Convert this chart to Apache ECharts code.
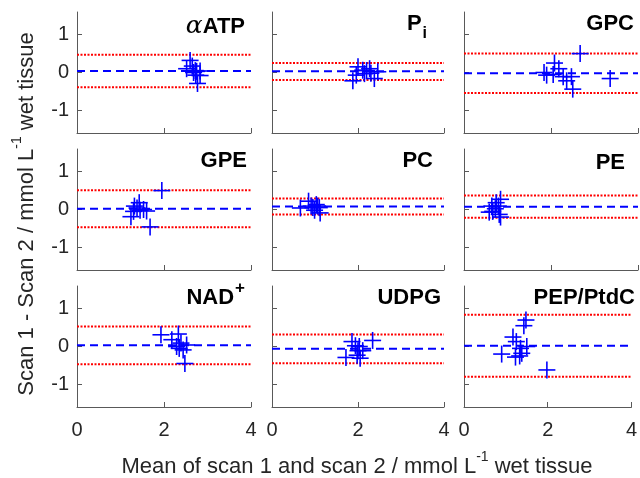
<!DOCTYPE html>
<html>
<head>
<meta charset="utf-8">
<script src="https://cdn.jsdelivr.net/npm/echarts@6/dist/echarts.min.js"></script>
<style>html,body{margin:0;padding:0;background:#fff}#c{width:640px;height:478px}</style>
</head>
<body>
<div id="c"></div>
<script>
// ---- data ----
const panelNames = ['{a|α}ATP', '{b|P}{s|i}', 'GPC', 'GPE', 'PC', 'PE', '{b|NAD}{p|+}', 'UDPG', 'PEP/PtdC'];
const xTicks = [0, 2, 4];
const yTicks = [-1, 0, 1];

const atpX  = [2.60, 2.65, 2.52, 2.72, 2.75, 2.83, 2.73, 2.83, 2.77, 2.68];
const atpY  = [0.32, 0.17, 0.10, 0.05, 0.03, 0.04, -0.07, -0.08, -0.29, 0.00];
const piX   = [1.88, 2.00, 2.15, 2.27, 2.38, 2.46, 1.96, 2.11, 2.20, 2.30];
const piY   = [-0.22, 0.15, -0.03, 0.10, -0.16, 0.02, -0.07, 0.06, 0.05, -0.02];
const gpcX  = [2.67, 3.36, 1.84, 2.08, 2.18, 2.28, 2.47, 2.50, 2.36, 1.90, 2.05];
const gpcY  = [0.50, -0.16, 0.00, 0.25, 0.10, -0.11, -0.11, -0.44, -0.22, -0.07, -0.05];
const gpeX  = [1.95, 1.68, 1.24, 1.32, 1.43, 1.53, 1.60, 1.38, 1.45, 1.30];
const gpeY  = [0.50, -0.46, -0.19, 0.09, 0.18, 0.00, -0.04, 0.04, -0.02, -0.05];
const pcX   = [0.66, 0.85, 0.91, 1.03, 1.12, 0.99, 1.06, 0.95, 1.10];
const pcY   = [0.04, 0.22, 0.09, 0.13, -0.09, -0.02, 0.09, 0.05, 0.05];
const peX   = [0.58, 0.66, 0.74, 0.79, 0.84, 0.84, 0.64, 0.81, 0.72];
const peY   = [-0.07, -0.05, 0.18, 0.09, 0.27, -0.20, 0.09, -0.13, 0.02];
const nadX  = [1.93, 2.48, 2.33, 2.18, 2.39, 2.44, 2.52, 2.29, 2.35];
const nadY  = [0.31, -0.45, 0.33, 0.18, 0.09, -0.09, 0.04, 0.00, -0.05];
const udpgX = [2.34, 1.72, 1.86, 1.94, 2.00, 2.05, 2.11, 1.98, 2.03];
const udpgY = [0.16, -0.29, 0.13, 0.02, -0.11, -0.31, -0.11, -0.23, 0.00];
const pepX  = [1.98, 1.48, 1.43, 1.17, 1.25, 0.90, 1.23, 1.33, 1.50, 1.35, 1.38];
const pepY  = [-0.62, 0.70, 0.55, 0.25, 0.13, -0.20, -0.28, -0.25, 0.00, -0.05, -0.18];

const bias     = [0.04, 0.03, -0.02, 0.02, 0.08, 0.07, 0.03, -0.06, 0.02];
const upperLoA = [0.47, 0.25, 0.50, 0.51, 0.29, 0.37, 0.53, 0.32, 0.84];
const lowerLoA = [-0.39, -0.20, -0.54, -0.47, -0.13, -0.22, -0.47, -0.44, -0.80];

const xs = [atpX, piX, gpcX, gpeX, pcX, peX, nadX, udpgX, pepX];
const ys = [atpY, piY, gpcY, gpeY, pcY, peY, nadY, udpgY, pepY];

// ---- layout ----
const FONT = '"Liberation Sans", Arial, Helvetica, sans-serif';
const colLeft = [77, 272, 464];
const colWidth = [174, 172, 174];
const rowTop = [12, 149, 286];
const rowHeight = 121;
const titleRight = [245, 427, 634, 247, 433, 625, 245, 441, 635];
const titleTop = [14, 6, 13, 150, 150, 152, 280, 287, 287];
const AX = '#595959';

const grids = [], xAxes = [], yAxes = [], series = [], titles = [];
for (let i = 0; i < 9; i++) {
  const r = Math.floor(i / 3), c = i % 3;
  grids.push({left: colLeft[c], top: rowTop[r], width: colWidth[c], height: rowHeight, containLabel: false});
  xAxes.push({
    type: 'value', gridIndex: i, min: xTicks[0], max: xTicks[xTicks.length - 1], interval: xTicks[1] - xTicks[0],
    axisLine: {show: true, onZero: false, lineStyle: {color: AX, width: 1}},
    axisTick: {show: true, inside: true, length: 5, lineStyle: {color: AX}},
    splitLine: {show: false},
    axisLabel: {show: r === 2, fontSize: 20, color: '#262626', fontFamily: FONT, margin: 13}
  });
  yAxes.push({
    type: 'value', gridIndex: i, min: -1.6, max: 1.6,
    axisLine: {show: true, onZero: false, lineStyle: {color: AX, width: 1}},
    axisTick: {show: true, inside: true, length: 5, customValues: yTicks, lineStyle: {color: AX}},
    splitLine: {show: false},
    axisLabel: {show: c === 0, customValues: yTicks, fontSize: 20, color: '#262626', fontFamily: FONT, margin: 8}
  });
  const x0 = xTicks[0], x1 = xTicks[xTicks.length - 1];
  series.push({
    type: 'line', xAxisIndex: i, yAxisIndex: i, symbol: 'none', silent: true, animation: false,
    data: [[x0, upperLoA[i]], [x1, upperLoA[i]]], lineStyle: {color: '#ff0000', width: 2, type: [2, 1.5]}, z: 2
  });
  series.push({
    type: 'line', xAxisIndex: i, yAxisIndex: i, symbol: 'none', silent: true, animation: false,
    data: [[x0, lowerLoA[i]], [x1, lowerLoA[i]]], lineStyle: {color: '#ff0000', width: 2, type: [2, 1.5]}, z: 2
  });
  series.push({
    type: 'line', xAxisIndex: i, yAxisIndex: i, symbol: 'none', silent: true, animation: false,
    data: [[x0, bias[i]], [x1, bias[i]]], lineStyle: {color: '#0000ff', width: 2, type: [8, 5]}, z: 3
  });
  series.push({
    type: 'custom', xAxisIndex: i, yAxisIndex: i, animation: false, z: 4,
    data: xs[i].map((v, k) => [v, ys[i][k]]),
    encode: {x: 0, y: 1},
    renderItem: function (params, api) {
      const p = api.coord([api.value(0), api.value(1)]);
      const h = 8.5;
      const st = {stroke: '#0000ff', lineWidth: 1.6};
      return {type: 'group', children: [
        {type: 'line', shape: {x1: p[0] - h, y1: p[1], x2: p[0] + h, y2: p[1]}, style: st},
        {type: 'line', shape: {x1: p[0], y1: p[1] - h, x2: p[0], y2: p[1] + h}, style: st}
      ]};
    }
  });
  titles.push({
    text: panelNames[i], right: 640 - titleRight[i], top: titleTop[i], padding: 0,
    textStyle: {
      fontSize: 22, fontWeight: 'bold', color: '#000', fontFamily: FONT,
      rich: {
        a: {fontSize: 25, fontStyle: 'italic', fontWeight: 'normal', fontFamily: '"DejaVu Serif", serif', color: '#000', verticalAlign: 'bottom'},
        b: {fontSize: 22, fontWeight: 'bold', fontFamily: FONT, color: '#000', verticalAlign: 'top', padding: [7, 0, 0, 0]},
        s: {fontSize: 16, fontWeight: 'bold', fontFamily: FONT, color: '#000', verticalAlign: 'top', padding: [20, 0, 0, 1]},
        p: {fontSize: 17, fontWeight: 'bold', fontFamily: FONT, color: '#000', verticalAlign: 'top', padding: [0, 0, 0, 1]}
      }
    }
  });
}

const chart = echarts.init(document.getElementById('c'), null, {renderer: 'canvas'});
chart.setOption({
  backgroundColor: '#fff',
  animation: false,
  title: titles,
  grid: grids,
  xAxis: xAxes,
  yAxis: yAxes,
  series: series,
  graphic: [
    {
      type: 'text', x: 357, y: 464, silent: true,
      style: {
        text: '{t|Mean of scan 1 and scan 2 / mmol L}{u|-1}{t| wet tissue}',
        align: 'center', verticalAlign: 'middle',
        rich: {
          t: {fontSize: 22, fontFamily: FONT, fill: '#262626', verticalAlign: 'top', padding: [6, 0, 0, 0]},
          u: {fontSize: 14, fontFamily: FONT, fill: '#262626', verticalAlign: 'top', padding: [0, 0, 0, 0]}
        }
      }
    },
    {
      type: 'text', x: 24, y: 214, rotation: Math.PI / 2, silent: true,
      style: {
        text: '{t|Scan 1 - Scan 2 / mmol L}{u|-1}{t| wet tissue}',
        align: 'center', verticalAlign: 'middle',
        rich: {
          t: {fontSize: 22, fontFamily: FONT, fill: '#262626', verticalAlign: 'top', padding: [6, 0, 0, 0]},
          u: {fontSize: 14, fontFamily: FONT, fill: '#262626', verticalAlign: 'top', padding: [0, 0, 0, 0]}
        }
      }
    }
  ]
});
</script>
</body>
</html>
